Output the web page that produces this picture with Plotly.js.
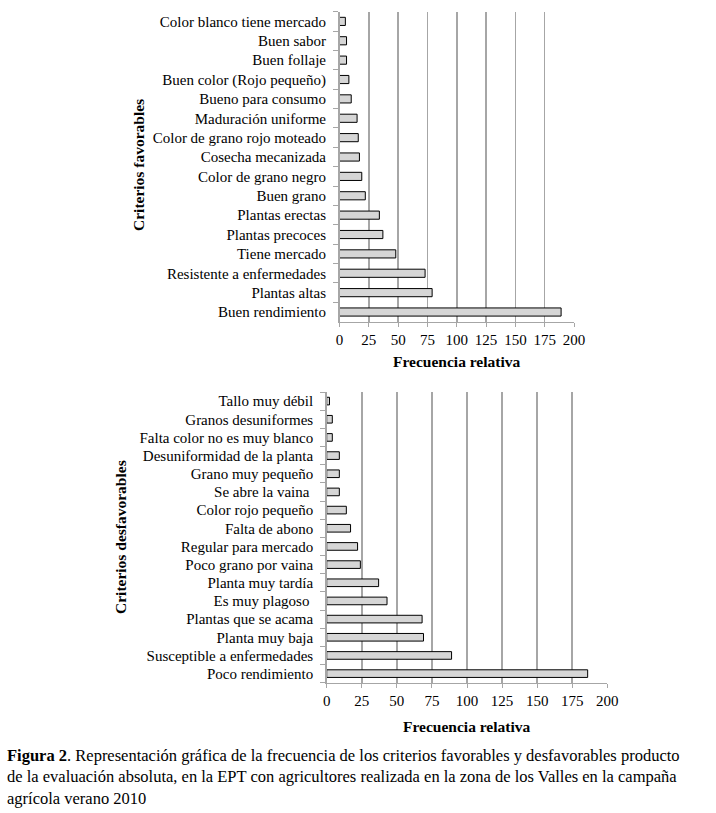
<!DOCTYPE html>
<html>
<head>
<meta charset="utf-8">
<script src="https://cdn.plot.ly/plotly-3.0.1.min.js"></script>
<style>html,body{margin:0;padding:0;background:#fff;}#chart{width:716px;height:813px;}</style>
</head>
<body>
<div id="chart"></div>
<script>
// Criterios favorables (listed bottom to top)
const favCategories = [
  "Buen rendimiento", "Plantas altas", "Resistente a enfermedades", "Tiene mercado",
  "Plantas precoces", "Plantas erectas", "Buen grano", "Color de grano negro",
  "Cosecha mecanizada", "Color de grano rojo moteado", "Maduración uniforme",
  "Bueno para consumo", "Buen color (Rojo pequeño)", "Buen follaje", "Buen sabor",
  "Color blanco tiene mercado"
];
const favValues = [189, 79, 73, 48, 37, 34, 22, 19, 17, 16, 15, 10, 8, 6, 6, 5];

// Criterios desfavorables (listed bottom to top)
const desCategories = [
  "Poco rendimiento", "Susceptible a enfermedades", "Planta muy baja", "Plantas que se acama",
  "Es muy plagoso ", "Planta muy tardía", "Poco grano por vaina", "Regular para mercado",
  "Falta de abono", "Color rojo pequeño", "Se abre la vaina ", "Grano muy pequeño",
  "Desuniformidad de la planta", "Falta color no es muy blanco", "Granos desuniformes",
  "Tallo muy débil"
];
const desValues = [186, 89, 69, 68, 43, 37, 24, 22, 17, 14, 9, 9, 9, 4, 4, 2];

const xTickVals = [0, 25, 50, 75, 100, 125, 150, 175, 200];
const xTitle = "Frecuencia relativa";
const favTitle = "Criterios favorables";
const desTitle = "Criterios desfavorables";
const caption = "<b>Figura 2</b>. Representación gráfica de la frecuencia de los criterios favorables y desfavorables producto<br>de la evaluación absoluta, en la EPT con agricultores realizada en la zona de los Valles en la campaña<br>agrícola verano 2010";

const W = 716, H = 813;
const FONT = "Liberation Serif, Times New Roman, serif";
const barStyle = {color: "#d6d6d6", line: {color: "#000", width: 1}};

const traces = [
  {type: "bar", orientation: "h", x: favValues, y: favCategories, marker: barStyle,
   width: 0.42, xaxis: "x", yaxis: "y", hoverinfo: "x+y"},
  {type: "bar", orientation: "h", x: desValues, y: desCategories, marker: barStyle,
   width: 0.42, xaxis: "x2", yaxis: "y2", hoverinfo: "x+y"}
];

function xAxis(domain, anchor) {
  return {
    domain: domain, anchor: anchor, range: [0, 200], tickvals: xTickVals,
    showgrid: true, gridcolor: "#a6a6a6", gridwidth: 1.5,
    showline: true, linecolor: "#a6a6a6", linewidth: 1.5,
    ticks: "outside", ticklen: 4, tickcolor: "#a6a6a6", tickwidth: 1,
    zeroline: false, tickfont: {family: FONT, size: 15, color: "#000"},
    fixedrange: true
  };
}
function yAxis(domain, anchor) {
  return {
    domain: domain, anchor: anchor, type: "category",
    showline: true, linecolor: "#a6a6a6", linewidth: 1.5,
    ticks: "outside", ticklen: 5, tickcolor: "#a6a6a6", tickwidth: 1,
    tickson: "boundaries", showgrid: false, ticklabelstandoff: 9,
    tickfont: {family: FONT, size: 15, color: "#000"},
    fixedrange: true
  };
}

const layout = {
  width: W, height: H,
  margin: {l: 0, r: 0, t: 0, b: 0},
  paper_bgcolor: "#fff", plot_bgcolor: "#fff",
  showlegend: false, bargap: 0.58,
  font: {family: FONT, color: "#000"},
  xaxis: xAxis([339.5 / W, 574 / W], "y"),
  yaxis: yAxis([1 - 321.7 / H, 1 - 11.7 / H], "x"),
  xaxis2: xAxis([326.7 / W, 607.3 / W], "y2"),
  yaxis2: yAxis([1 - 682.7 / H, 1 - 392 / H], "x2"),
  annotations: [
    {text: xTitle, xref: "paper", yref: "paper", x: 456.75 / W, y: 1 - 362 / H,
     xanchor: "center", yanchor: "middle",
     showarrow: false, font: {family: FONT, size: 15.5, color: "#000", weight: "bold"}},
    {text: xTitle, xref: "paper", yref: "paper", x: 467 / W, y: 1 - 726 / H,
     xanchor: "center", yanchor: "middle",
     showarrow: false, font: {family: FONT, size: 15.5, color: "#000", weight: "bold"}},
    {text: "<b>" + favTitle + "</b>", xref: "paper", yref: "paper", x: 138 / W, y: 1 - 165 / H,
     xanchor: "center", yanchor: "middle",
     textangle: -90, showarrow: false, font: {family: FONT, size: 15.5, color: "#000"}},
    {text: "<b>" + desTitle + "</b>", xref: "paper", yref: "paper", x: 120 / W, y: 1 - 537 / H,
     xanchor: "center", yanchor: "middle",
     textangle: -90, showarrow: false, font: {family: FONT, size: 15.5, color: "#000"}},
    {text: caption, xref: "paper", yref: "paper", x: 5 / W, y: 1 - 744 / H,
     xanchor: "left", yanchor: "top", align: "left", showarrow: false,
     font: {family: FONT, size: 16.5, color: "#000"}}
  ]
};

Plotly.newPlot("chart", traces, layout, {displayModeBar: false, staticPlot: true});
</script>
</body>
</html>
